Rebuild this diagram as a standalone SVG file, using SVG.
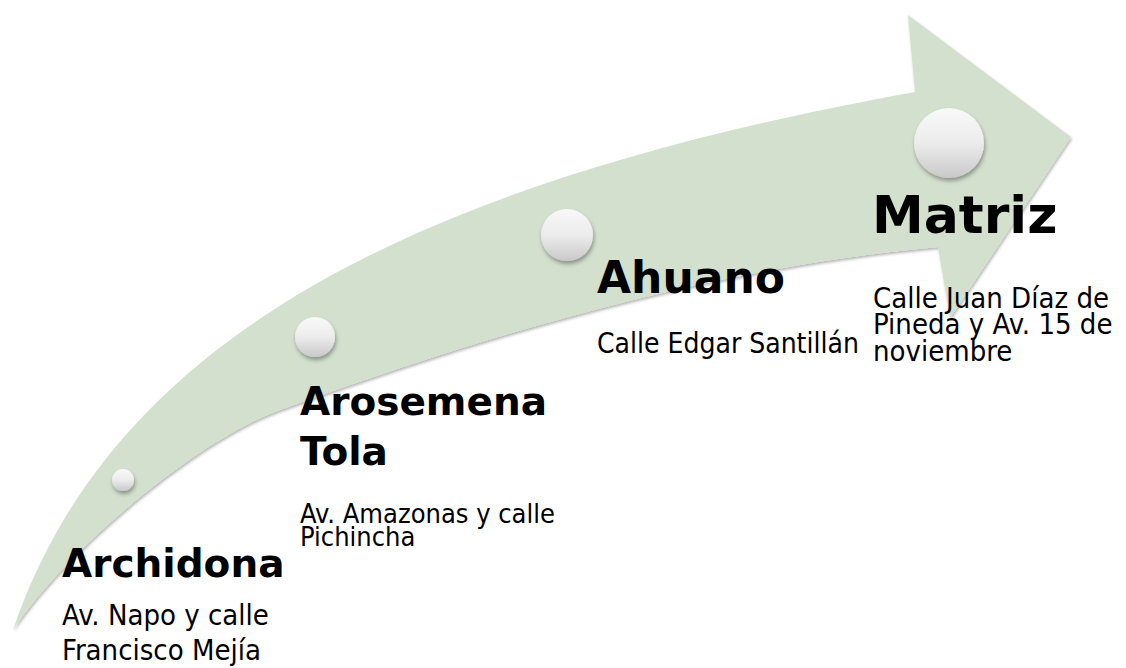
<svg xmlns="http://www.w3.org/2000/svg" width="1126" height="668" viewBox="0 0 1126 668">
<style>
.h{font-family:"DejaVu Sans","Verdana",sans-serif;font-weight:bold;fill:#000}
.b{font-family:"DejaVu Sans Condensed","DejaVu Sans",sans-serif;font-stretch:condensed;fill:#000}
</style>
<defs>
<linearGradient id="ball" x1="0" y1="0" x2="0" y2="1">
<stop offset="0" stop-color="#f9f9f9"/>
<stop offset="0.5" stop-color="#ececec"/>
<stop offset="1" stop-color="#c9c9c9"/>
</linearGradient>
<filter id="sh" x="-20%" y="-20%" width="140%" height="150%">
<feGaussianBlur in="SourceAlpha" stdDeviation="2"/>
<feOffset dx="1" dy="3" result="o"/>
<feComponentTransfer><feFuncA type="linear" slope="0.35"/></feComponentTransfer>
<feMerge><feMergeNode/><feMergeNode in="SourceGraphic"/></feMerge>
</filter>
<filter id="ash" x="-5%" y="-5%" width="110%" height="110%">
<feGaussianBlur in="SourceAlpha" stdDeviation="1.5"/>
<feOffset dx="1" dy="2" result="o"/>
<feComponentTransfer><feFuncA type="linear" slope="0.3"/></feComponentTransfer>
<feMerge><feMergeNode/><feMergeNode in="SourceGraphic"/></feMerge>
</filter>
</defs>
<g id="arrow">
<path filter="url(#ash)" fill="#d3e0ce" d="M13,630 C110,345 400,185 915,92 L908,15 L1071,137 L950,318 L938,247 C718,267 500,330 280,410 C200,439 70,545 13,630 Z"/>
</g>
<g id="connectors"></g>
<g id="node-archidona">
<circle cx="123" cy="480" r="11" fill="url(#ball)" filter="url(#sh)"/>
<text class="h" x="62" y="577" font-size="39">Archidona</text>
<text class="b" x="62" y="625" font-size="29">Av. Napo y calle</text>
<text class="b" x="62" y="660" font-size="29">Francisco Mejía</text>
</g>
<g id="node-arosemena">
<circle cx="315" cy="337" r="20" fill="url(#ball)" filter="url(#sh)"/>
<text class="h" x="300" y="415" font-size="39">Arosemena</text>
<text class="h" x="300" y="465" font-size="39">Tola</text>
<text class="b" x="300" y="523" font-size="27">Av. Amazonas y calle</text>
<text class="b" x="300" y="546" font-size="27">Pichincha</text>
</g>
<g id="node-ahuano">
<circle cx="567" cy="235" r="26" fill="url(#ball)" filter="url(#sh)"/>
<text class="h" x="597" y="293" font-size="44">Ahuano</text>
<text class="b" x="597" y="353" font-size="28">Calle Edgar Santillán</text>
</g>
<g id="node-matriz">
<circle cx="949" cy="143" r="35" fill="url(#ball)" filter="url(#sh)"/>
<text class="h" x="872" y="233" font-size="52">Matriz</text>
<text class="b" x="873" y="308" font-size="29">Calle Juan Díaz de</text>
<text class="b" x="873" y="334" font-size="29">Pineda y Av. 15 de</text>
<text class="b" x="873" y="361" font-size="29">noviembre</text>
</g>
</svg>
